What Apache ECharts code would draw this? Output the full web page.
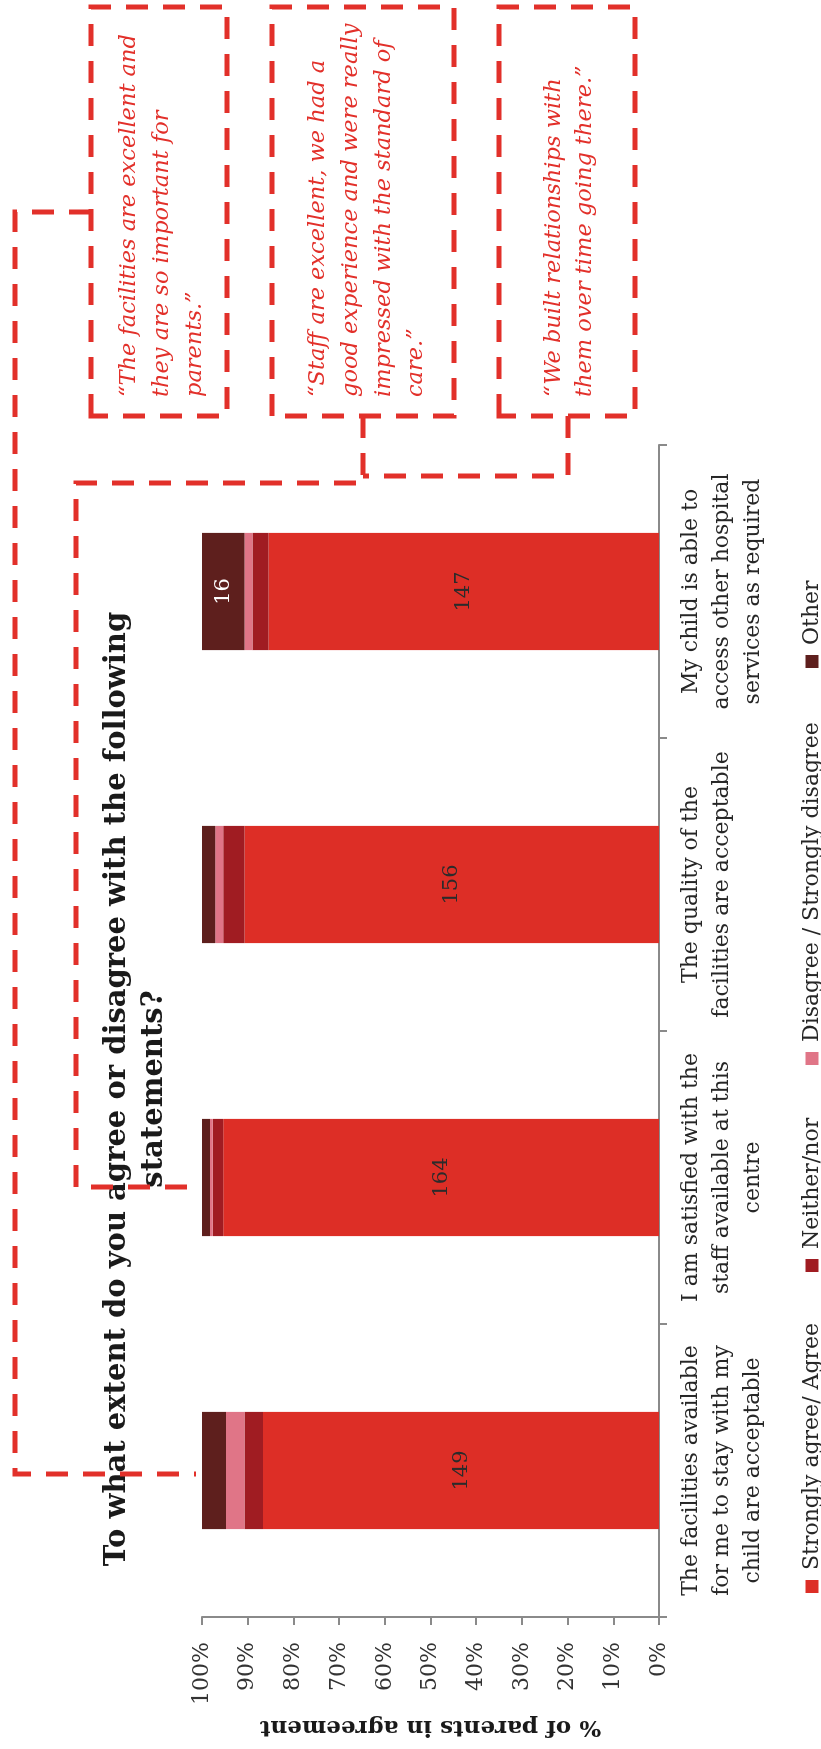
<!DOCTYPE html>
<html>
<head>
<meta charset="utf-8">
<script src="https://cdn.jsdelivr.net/npm/echarts@6/dist/echarts.min.js"></script>
<style>
  html, body { margin: 0; padding: 0; background: #ffffff; }
  body { width: 821px; height: 1749px; overflow: hidden; position: relative; }
  /* The chart is laid out as a landscape page and turned a quarter turn
     counter-clockwise so it reads along the long edge of the portrait page. */
  #chart {
    position: absolute; left: 0; top: 1749px;
    width: 1749px; height: 821px;
    transform-origin: 0 0;
    transform: rotate(-90deg);
  }
</style>
</head>
<body>
<div id="chart"></div>
<script>
// Survey statements (category axis, left to right on the landscape page)
const categories = [
  'The facilities available\nfor me to stay with my\nchild are acceptable',
  'I am satisfied with the\nstaff available at this\ncentre',
  'The quality of the\nfacilities are acceptable',
  'My child is able to\naccess other hospital\nservices as required'
];

// Number of parents giving each answer, per statement
const agreeCounts    = [149, 164, 156, 147];
const neitherCounts  = [7, 4, 8, 6];
const disagreeCounts = [7, 1, 3, 3];
const otherCounts    = [9, 3, 5, 16];

const seriesNames = ['Strongly agree/ Agree', 'Neither/nor', 'Disagree / Strongly disagree', 'Other'];
const seriesColors = ['#DD2E26', '#A01C22', '#E07587', '#5E1F1D'];

const titleText = 'To what extent do you agree or disagree with the following\nstatements?';
const axisTitle = '% of parents in agreement';

const quotes = [
  '\u201CThe facilities are excellent and\nthey are so important for\nparents.\u201D',
  '\u201CStaff are excellent, we had a\ngood experience and were really\nimpressed with the standard of\ncare.\u201D',
  '\u201CWe built relationships with\nthem over time going there.\u201D'
];

const FONT = '"DejaVu Serif", "Liberation Serif", serif';
const QUOTE_RED = '#E2302A';

const totals = categories.map((_, i) =>
  agreeCounts[i] + neitherCounts[i] + disagreeCounts[i] + otherCounts[i]);

function makeSeries(name, counts, color, labelColor) {
  return {
    name: name,
    type: 'bar',
    stack: 'all',
    barCategoryGap: '60%',
    itemStyle: { color: color },
    label: {
      show: true,
      position: 'inside',
      color: labelColor,
      fontFamily: FONT,
      fontSize: 21,
      formatter: p => (p.data.count >= 10 ? String(p.data.count) : '')
    },
    data: counts.map((c, i) => ({ value: c / totals[i] * 100, count: c }))
  };
}

const chart = echarts.init(document.getElementById('chart'), null, { renderer: 'canvas' });

const dash = { stroke: QUOTE_RED, lineWidth: 5, lineDash: [22, 15], fill: null };

// Quote boxes along the right edge, and the dashed leaders to their bars
const boxes = [
  { x: 1333, y: 91,  width: 409, height: 136 },
  { x: 1333, y: 272, width: 409, height: 182 },
  { x: 1333, y: 499, width: 409, height: 136 }
];
const quoteTops = [113, 302, 539];
const quoteLineHeights = [33, 32.7, 31];

const leaders = [
  [[1537, 91], [1537, 15], [275, 15], [275, 196]],
  [[1333, 363], [1266, 363], [1266, 76], [562, 76], [562, 196]],
  [[1333, 568], [1273, 568], [1273, 363]]
];

const graphics = [];
boxes.forEach(b => graphics.push({
  type: 'rect', z: 50, silent: true,
  shape: b, style: Object.assign({}, dash)
}));
leaders.forEach(pts => graphics.push({
  type: 'polyline', z: 50, silent: true,
  shape: { points: pts }, style: Object.assign({}, dash)
}));
quotes.forEach((q, i) => graphics.push({
  type: 'text', z: 51, silent: true,
  x: 1352, y: quoteTops[i],
  style: {
    text: q, fill: QUOTE_RED,
    fontFamily: FONT, fontStyle: 'italic', fontSize: 22.5,
    lineHeight: quoteLineHeights[i],
    align: 'left', verticalAlign: 'top'
  }
}));

const legendLefts = [151, 472, 679, 1076];

chart.setOption({
  animation: false,
  backgroundColor: '#ffffff',
  title: {
    text: titleText,
    left: 655, top: 94,
    textAlign: 'center',
    textStyle: { fontFamily: FONT, fontSize: 29, fontWeight: 'bold', color: '#1a1a1a', lineHeight: 37 }
  },
  legend: seriesNames.map((n, i) => ({
    data: [n],
    left: legendLefts[i], top: 794,
    icon: 'rect', itemWidth: 13, itemHeight: 13,
    selectedMode: false,
    textStyle: { fontFamily: FONT, fontSize: 22, color: '#262626', lineHeight: 26, padding: [0, 0, 0, 5] }
  })),
  grid: { left: 132, right: 445, top: 202, bottom: 162, containLabel: false },
  xAxis: {
    type: 'category',
    data: categories,
    axisLine: { show: true, lineStyle: { color: '#8a8a8a', width: 2 } },
    axisTick: { show: true, length: 8, lineStyle: { color: '#8a8a8a', width: 2 } },
    axisLabel: { interval: 0, margin: 17, fontFamily: FONT, fontSize: 22, lineHeight: 31, color: '#262626' }
  },
  yAxis: {
    type: 'value',
    min: 0, max: 100, interval: 10,
    name: axisTitle,
    nameLocation: 'middle',
    nameGap: 98,
    nameTextStyle: { fontFamily: FONT, fontSize: 23, fontWeight: 'bold', color: '#1a1a1a' },
    axisLine: { show: true, lineStyle: { color: '#8a8a8a', width: 2 } },
    axisTick: { show: true, length: 8, lineStyle: { color: '#8a8a8a', width: 2 } },
    splitLine: { show: false },
    axisLabel: { formatter: '{value}%', margin: 25, fontFamily: FONT, fontSize: 22, color: '#333333' }
  },
  series: [
    makeSeries(seriesNames[0], agreeCounts, seriesColors[0], '#2b2b2b'),
    makeSeries(seriesNames[1], neitherCounts, seriesColors[1], '#ffffff'),
    makeSeries(seriesNames[2], disagreeCounts, seriesColors[2], '#ffffff'),
    makeSeries(seriesNames[3], otherCounts, seriesColors[3], '#ffffff')
  ],
  graphic: graphics
});
</script>
</body>
</html>
